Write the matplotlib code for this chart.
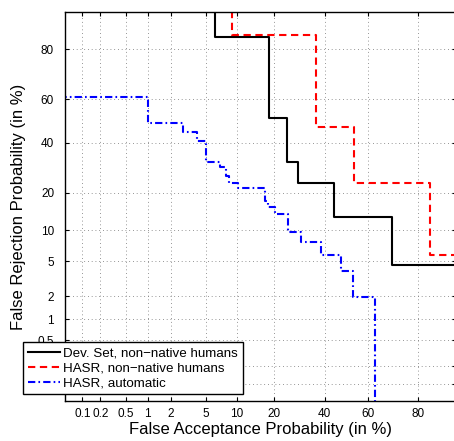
import math
import numpy as np
import matplotlib
matplotlib.use("Agg")
import matplotlib.pyplot as plt

plt.rcParams['font.family'] = ['Liberation Sans', 'DejaVu Sans']

# DET curves, values in percent (false acceptance, false rejection)
dev_fa = [6.2, 6.2, 18.3, 24.5, 28.5, 44.5, 70.5, 99.0]
dev_fr = [99.0, 83.7, 51.3, 31.6, 23.2, 12.9, 4.55, 4.55]

hasr_fa = [9.1, 9.1, 36.3, 53.5, 83.7, 99.0]
hasr_fr = [99.0, 84.4, 47.0, 23.3, 5.8, 5.8]

auto_fa = [0.01, 1.0, 2.8, 4.0, 5.0, 6.9, 8.0, 8.5, 10.3, 17.1, 18.0,
           20.2, 24.9, 29.8, 38.4, 47.6, 53.3, 63.2]
auto_fr = [61.0, 48.9, 44.9, 40.9, 31.6, 29.3, 25.9, 23.3, 21.5, 17.4, 15.6,
           13.7, 9.7, 7.8, 5.86, 3.91, 1.96, 0.01]

tick_vals = [0.1, 0.2, 0.5, 1, 2, 5, 10, 20, 40, 60, 80]
tick_labels = ['0.1', '0.2', '0.5', '1', '2', '5', '10', '20', '40', '60', '80']
lims = (0.05, 90)

labels = ['Dev. Set, non\u2212native humans', 'HASR, non\u2212native humans',
          'HASR, automatic']


# probit scale (normal deviate), percent in / percent out
_a = [-3.969683028665376e+01, 2.209460984245205e+02, -2.759285104469687e+02,
      1.383577518672690e+02, -3.066479806614716e+01, 2.506628277459239e+00]
_b = [-5.447609879822406e+01, 1.615858368580409e+02, -1.556989798598866e+02,
      6.680131188771972e+01, -1.328068155288572e+01]
_c = [-7.784894002430293e-03, -3.223964580411365e-01, -2.400758277161838e+00,
      -2.549732539343734e+00, 4.374664141464968e+00, 2.938163982698783e+00]
_d = [7.784695709041462e-03, 3.224671290700398e-01, 2.445134137142996e+00,
      3.754408661907416e+00]


def _ppf(p):
    p = np.clip(np.asarray(p, float), 1e-12, 1 - 1e-12)
    plow = 0.02425
    q = np.sqrt(-2 * np.log(np.minimum(p, 1 - p)))
    tail = (((((_c[0]*q + _c[1])*q + _c[2])*q + _c[3])*q + _c[4])*q + _c[5]) / \
        ((((_d[0]*q + _d[1])*q + _d[2])*q + _d[3])*q + 1)
    tail = np.where(p < 0.5, tail, -tail)
    r = p - 0.5
    s = r * r
    mid = (((((_a[0]*s + _a[1])*s + _a[2])*s + _a[3])*s + _a[4])*s + _a[5]) * r / \
        (((((_b[0]*s + _b[1])*s + _b[2])*s + _b[3])*s + _b[4])*s + 1)
    return np.where((p < plow) | (p > 1 - plow), tail, mid)


_erf = np.vectorize(math.erf)


def fwd(v):
    return _ppf(np.asarray(v, float) / 100.0)


def inv(z):
    return 50.0 * (1 + _erf(np.asarray(z, float) / math.sqrt(2)))


fig = plt.figure(figsize=(4.54, 4.41), dpi=100)
ax = fig.add_axes([65.2 / 454, 1 - 401.4 / 441, 390.4 / 454, 389.6 / 441])
ax.set_xscale('function', functions=(fwd, inv))
ax.set_yscale('function', functions=(fwd, inv))

ax.step(dev_fa, dev_fr, where='post', color='black', lw=1.5, label=labels[0])
ax.step(hasr_fa, hasr_fr, where='post', color='red', lw=1.5,
        linestyle=(0, (3.5, 2.2)), label=labels[1])
ax.step(auto_fa, auto_fr, where='post', color='blue', lw=1.5,
        linestyle=(0, (3.5, 1.5, 0.8, 1.5)), label=labels[2])

ax.set_xlim(*lims)
ax.set_ylim(*lims)
ax.set_xticks(tick_vals)
ax.set_xticklabels(tick_labels)
ax.set_yticks(tick_vals)
ax.set_yticklabels(tick_labels)
ax.minorticks_off()
ax.grid(True, color='0.45', linestyle=(0, (1, 3.5)), lw=0.6)
ax.tick_params(direction='in', top=True, right=True, length=3, labelsize=8.5)
ax.tick_params(axis='y', pad=8)
ax.tick_params(axis='x', pad=5)
for sp in ax.spines.values():
    sp.set_linewidth(1.0)

ax.set_xlabel('False Acceptance Probability (in %)', fontsize=12, labelpad=1)
ax.set_ylabel('False Rejection Probability (in %)', fontsize=12, labelpad=8)

leg = ax.legend(loc='lower left', bbox_to_anchor=(23 / 454, 1 - 394 / 441),
                bbox_transform=fig.transFigure, borderaxespad=0, fontsize=9.6,
                fancybox=False, framealpha=1, edgecolor='black',
                handlelength=2.4, handletextpad=0.28, borderpad=0.35,
                labelspacing=0.2)
leg.get_frame().set_linewidth(1.0)
leg.set_zorder(10)

fig.savefig('out.png', dpi=100)
